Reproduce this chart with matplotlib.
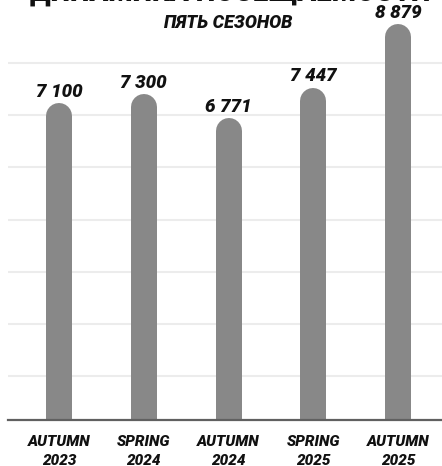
import matplotlib
matplotlib.use("Agg")
import matplotlib.pyplot as plt
import numpy as np

seasons = ["AUTUMN\n2023", "SPRING\n2024", "AUTUMN\n2024", "SPRING\n2025", "AUTUMN\n2025"]
visitors = [7100, 7300, 6771, 7447, 8879]
labels = ["7 100", "7 300", "6 771", "7 447", "8 879"]
grid_levels = [980, 2150, 3320, 4490, 5660, 6830, 8000]

title = "ДИНАМИКА ПОСЕЩАЕМОСТИ"
subtitle = "ПЯТЬ СЕЗОНОВ"

plt.rcParams["font.family"] = ["Roboto", "DejaVu Sans"]

BAR = "#888888"
INK = "#111111"
W = 900

fig = plt.figure(figsize=(4.42, 4.66), dpi=100)
ax = fig.add_axes([8 / 442, 46 / 466, 434 / 442, 400 / 466])
ax.set_xlim(-0.601, 4.517)
ax.set_ylim(0, 8960)

for g in grid_levels:
    ax.axhline(g, color="#ececec", lw=1.5, zorder=0)

# bars as thick round-capped lines so the top is rounded
bar_px = 26
px_per_unit = 400 / 8960
cap = (bar_px / 2) / px_per_unit
x = np.arange(len(visitors))
for xi, v in zip(x, visitors):
    ax.plot([xi, xi], [0, v - cap], color=BAR, lw=bar_px * 72 / fig.dpi,
            solid_capstyle="round", zorder=2)
    ax.annotate(labels[xi], (xi, v), xytext=(0, 1.5), textcoords="offset points",
                ha="center", va="bottom", fontsize=13.5, fontweight=W,
                fontstyle="italic", color=INK)

for sp in ["left", "right", "top"]:
    ax.spines[sp].set_visible(False)
ax.spines["bottom"].set_color("#606060")
ax.spines["bottom"].set_linewidth(1.6)
ax.spines["bottom"].set_zorder(3)
ax.set_yticks([])
ax.set_xticks(x)
ax.set_xticklabels(seasons, fontsize=11, fontweight=W, fontstyle="italic",
                   color=INK, linespacing=1.4)
ax.tick_params(axis="x", length=0, pad=11)

fig.text(230 / 442, 1 - 1 / 466, title, ha="center", va="baseline",
         fontsize=20, fontweight=W, color=INK)
fig.text(228 / 442, 1 - 28 / 466, subtitle, ha="center", va="baseline",
         fontsize=13, fontweight=W, fontstyle="italic", color=INK)

fig.savefig("out.png", dpi=100)
